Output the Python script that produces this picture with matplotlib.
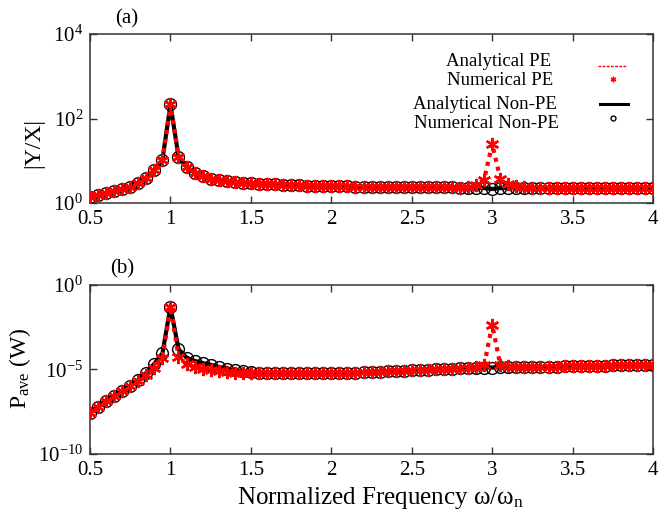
import math

import matplotlib

matplotlib.use("Agg")
import matplotlib.pyplot as plt
from matplotlib.ticker import FixedLocator, FuncFormatter, NullLocator

plt.rcParams["font.family"] = ["Liberation Serif", "DejaVu Serif"]
plt.rcParams["mathtext.fontset"] = "custom"
plt.rcParams["mathtext.rm"] = "Liberation Serif"
plt.rcParams["mathtext.it"] = "Liberation Serif:italic"

# normalized frequency grid (0.50 ... 4.00, step 0.05)
freq = [
    0.50, 0.55, 0.60, 0.65, 0.70, 0.75, 0.80, 0.85, 0.90, 0.95,
    1.00, 1.05, 1.10, 1.15, 1.20, 1.25, 1.30, 1.35, 1.40, 1.45,
    1.50, 1.55, 1.60, 1.65, 1.70, 1.75, 1.80, 1.85, 1.90, 1.95,
    2.00, 2.05, 2.10, 2.15, 2.20, 2.25, 2.30, 2.35, 2.40, 2.45,
    2.50, 2.55, 2.60, 2.65, 2.70, 2.75, 2.80, 2.85, 2.90, 2.95,
    3.00, 3.05, 3.10, 3.15, 3.20, 3.25, 3.30, 3.35, 3.40, 3.45,
    3.50, 3.55, 3.60, 3.65, 3.70, 3.75, 3.80, 3.85, 3.90, 3.95,
    4.00,
]

# |Y/X|, non-PE
yx_nonpe = [
    1.42, 1.55, 1.75, 1.95, 2.15, 2.45, 3.0, 4.0, 6.0, 10.5,
    215, 12.5, 7.2, 5.2, 4.3, 3.8, 3.5, 3.3, 3.1, 3.0,
    2.9, 2.85, 2.8, 2.75, 2.7, 2.65, 2.6, 2.58, 2.55, 2.52,
    2.5, 2.48, 2.46, 2.45, 2.44, 2.43, 2.42, 2.41, 2.4, 2.4,
    2.38, 2.37, 2.36, 2.35, 2.34, 2.33, 2.32, 2.31, 2.3, 2.25,
    2.15, 2.25, 2.3, 2.3, 2.3, 2.3, 2.3, 2.3, 2.3, 2.3,
    2.3, 2.3, 2.3, 2.3, 2.3, 2.3, 2.3, 2.3, 2.3, 2.3,
    2.3,
]

# |Y/X|, PE
yx_pe = [
    1.42, 1.55, 1.75, 1.95, 2.15, 2.45, 3.0, 4.0, 6.0, 10.5,
    215, 12.5, 7.2, 5.2, 4.3, 3.8, 3.5, 3.3, 3.1, 3.0,
    2.9, 2.85, 2.8, 2.75, 2.7, 2.65, 2.6, 2.58, 2.55, 2.52,
    2.5, 2.48, 2.46, 2.45, 2.44, 2.43, 2.42, 2.41, 2.4, 2.4,
    2.38, 2.37, 2.36, 2.35, 2.34, 2.33, 2.32, 2.45, 2.7, 3.6,
    25, 3.8, 2.8, 2.5, 2.35, 2.3, 2.3, 2.3, 2.3, 2.3,
    2.3, 2.3, 2.3, 2.3, 2.3, 2.3, 2.3, 2.3, 2.3, 2.3,
    2.3,
]

# average power (W), non-PE
p_nonpe = [
    2.8e-8, 6.3e-8, 1.4e-7, 2.8e-7, 5.0e-7, 1.1e-6, 2.4e-6, 6.3e-6, 2.2e-5, 8.9e-5,
    5.2e-2, 1.6e-4, 5.0e-5, 3.2e-5, 2.4e-5, 1.9e-5, 1.4e-5, 1.1e-5, 8.9e-6, 7.9e-6,
    7.1e-6, 6.5e-6, 6.3e-6, 6.2e-6, 6.1e-6, 6.0e-6, 6.0e-6, 6.0e-6, 6.0e-6, 6.0e-6,
    6.0e-6, 6.2e-6, 6.4e-6, 6.6e-6, 6.8e-6, 7.0e-6, 7.3e-6, 7.6e-6, 8.0e-6, 8.5e-6,
    9.0e-6, 9.3e-6, 9.6e-6, 1.0e-5, 1.05e-5, 1.1e-5, 1.15e-5, 1.2e-5, 1.25e-5, 1.3e-5,
    1.3e-5, 1.35e-5, 1.35e-5, 1.4e-5, 1.4e-5, 1.4e-5, 1.45e-5, 1.45e-5, 1.45e-5, 1.5e-5,
    1.5e-5, 1.55e-5, 1.6e-5, 1.65e-5, 1.7e-5, 1.8e-5, 1.8e-5, 1.85e-5, 1.85e-5, 1.9e-5,
    1.9e-5,
]

# average power (W), PE
p_pe = [
    2.8e-8, 6.3e-8, 1.4e-7, 2.8e-7, 5.0e-7, 1.0e-6, 2.1e-6, 5.0e-6, 1.3e-5, 4.5e-5,
    5.2e-2, 5.6e-5, 2.0e-5, 1.4e-5, 1.1e-5, 9.3e-6, 7.9e-6, 7.1e-6, 6.6e-6, 6.3e-6,
    6.2e-6, 6.1e-6, 6.0e-6, 6.0e-6, 6.0e-6, 6.0e-6, 6.0e-6, 6.0e-6, 6.0e-6, 6.0e-6,
    6.0e-6, 6.2e-6, 6.4e-6, 6.6e-6, 6.8e-6, 7.0e-6, 7.3e-6, 7.6e-6, 8.0e-6, 8.5e-6,
    9.0e-6, 9.3e-6, 9.6e-6, 1.0e-5, 1.05e-5, 1.1e-5, 1.15e-5, 1.2e-5, 1.4e-5, 1.8e-5,
    4.5e-3, 1.9e-5, 1.5e-5, 1.4e-5, 1.4e-5, 1.4e-5, 1.45e-5, 1.45e-5, 1.45e-5, 1.5e-5,
    1.5e-5, 1.55e-5, 1.6e-5, 1.65e-5, 1.7e-5, 1.8e-5, 1.8e-5, 1.85e-5, 1.85e-5, 1.9e-5,
    1.9e-5,
]

x_ticks = [0.5, 1, 1.5, 2, 2.5, 3, 3.5, 4]
x_ticklabels = ["0.5", "1", "1.5", "2", "2.5", "3", "3.5", "4"]
top_yticks = [1e0, 1e2, 1e4]
bottom_yticks = [1e-10, 1e-5, 1e0]

ASTERISK = (6, 2, 0)


def _pow10(val, _pos):
    return r"$10^{%d}$" % int(round(math.log10(val)))


def _style_axes(ax, yticks, ylim):
    ax.set_yscale("log")
    ax.set_xlim(0.5, 4)
    ax.set_ylim(*ylim)
    ax.xaxis.set_major_locator(FixedLocator(x_ticks))
    ax.set_xticklabels(x_ticklabels)
    ax.yaxis.set_major_locator(FixedLocator(yticks))
    ax.yaxis.set_minor_locator(NullLocator())
    ax.yaxis.set_major_formatter(FuncFormatter(_pow10))
    ax.tick_params(which="both", direction="in", top=True, right=True,
                   length=5, width=1.0, labelsize=15, pad=5, color="#333333")
    for sp in ax.spines.values():
        sp.set_linewidth(1.1)
        sp.set_color("#333333")


def _draw(ax, y_nonpe, y_pe):
    ax.plot(freq, y_nonpe, color="black", lw=3.0, zorder=2)
    ax.plot(freq, y_nonpe, linestyle="none", marker="o", ms=8.5, mfc="none",
            mec="black", mew=1.0, zorder=3)
    ax.plot(freq, y_pe, color="#ff0000", lw=3.0, linestyle=(0, (1.0, 1.2)), zorder=4)
    ax.plot(freq, y_pe, linestyle="none", marker=ASTERISK, ms=9.5, mec="#ff0000",
            mew=1.7, zorder=5)


fig = plt.figure(figsize=(6.59, 5.2), dpi=100)
ax_a = fig.add_axes([0.1366, 0.6096, 0.8544, 0.325])
ax_b = fig.add_axes([0.1366, 0.127, 0.8544, 0.325])

_draw(ax_a, yx_nonpe, yx_pe)
_style_axes(ax_a, top_yticks, (1e0, 1e4))

_draw(ax_b, p_nonpe, p_pe)
_style_axes(ax_b, bottom_yticks, (1e-10, 1e0))

# legend drawn by hand (centred labels, samples on the right)
leg_items = [
    ("Analytical PE", 0.725, 0.840),
    ("Numerical PE", 0.728, 0.722),
    ("Analytical Non-PE", 0.702, 0.580),
    ("Numerical Non-PE", 0.705, 0.468),
]
for label, lx, ly in leg_items:
    ax_a.text(lx, ly, label, transform=ax_a.transAxes, ha="center", va="center",
              fontsize=13.5)
ax_a.plot([0.902, 0.954], [0.811, 0.811], transform=ax_a.transAxes, color="#ff0000",
          lw=1.0, linestyle=(0, (2, 1)), clip_on=False)
ax_a.plot([0.929], [0.734], transform=ax_a.transAxes, linestyle="none",
          marker=ASTERISK, ms=4, mec="#ff0000", mew=1.0, clip_on=False)
ax_a.plot([0.906, 0.956], [0.586, 0.586], transform=ax_a.transAxes, color="black",
          lw=2.2, clip_on=False)
ax_a.plot([0.929], [0.503], transform=ax_a.transAxes, linestyle="none",
          marker="o", ms=3.5, mfc="none", mec="black", mew=1.0, clip_on=False)

fig.text(127 / 659, 1 - 19 / 520, "(a)", ha="center", va="center", fontsize=15)
fig.text(122 / 659, 1 - 269 / 520, "(b)", ha="center", va="center", fontsize=15)
fig.text(34 / 659, 1 - 143 / 520, "|Y/X|", rotation=90, ha="center", va="center",
         fontsize=17)
fig.text(20 / 659, 1 - 368 / 520, r"P$_{\mathrm{ave}}$ (W)", rotation=90,
         ha="center", va="center", fontsize=17)
fig.text(380 / 659, 1 - 498 / 520, r"Normalized Frequency ω/ω$_{\mathrm{n}}$",
         ha="center", va="center", fontsize=18)

fig.savefig("out.png", dpi=100)
